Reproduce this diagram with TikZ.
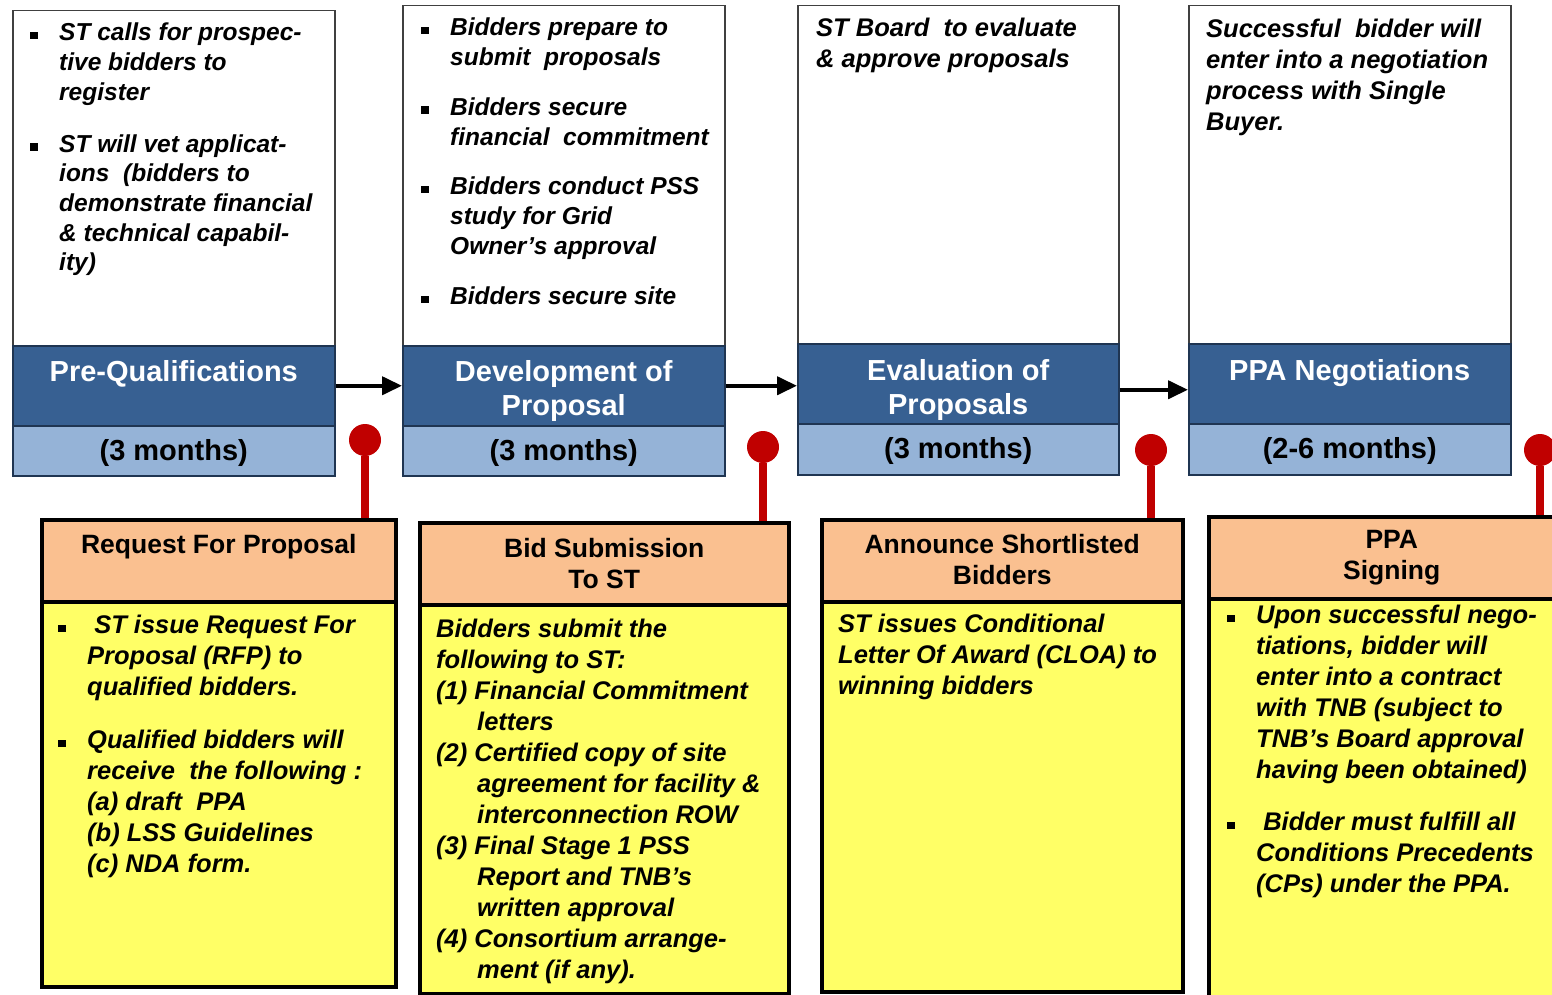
\documentclass[tikz,border=0pt]{standalone}
\usepackage{fontspec}
\setmainfont{Liberation Sans}
\usetikzlibrary{arrows.meta}

\definecolor{phaseblue}{HTML}{376092}
\definecolor{phaseedge}{HTML}{1F3552}
\definecolor{durblue}{HTML}{95B3D7}
\definecolor{headorange}{HTML}{FAC090}
\definecolor{bodyyellow}{HTML}{FFFF66}
\definecolor{pinred}{HTML}{C00000}

% square bullet in a box of the given width, and the matching hanging indent
\newcommand{\sqbul}[1]{\makebox[#1][l]{\rule[1.5pt]{7.5pt}{7.5pt}}}
\newcommand{\hang}[1]{\hspace*{#1}}

\begin{document}
\begin{tikzpicture}[x=1pt,y=-1pt,
  descbox/.style={draw=black!75, line width=1.5pt, fill=white, inner sep=0, anchor=north west},
  phasebox/.style={draw=phaseedge, line width=1.5pt, fill=phaseblue, inner sep=0, anchor=north west},
  durbox/.style={draw=phaseedge, line width=1.5pt, fill=durblue, inner sep=0, anchor=north west},
  headbox/.style={draw=black, line width=3.5pt, fill=headorange, inner sep=0, anchor=north west},
  bodybox/.style={draw=black, line width=3.5pt, fill=bodyyellow, inner sep=0, anchor=north west},
  txt/.style={inner sep=0, anchor=north west, align=left, font=\fontsize{24.5}{29.7}\selectfont\bfseries\itshape},
  bodytxt/.style={txt, font=\fontsize{25.5}{31}\selectfont\bfseries\itshape},
  phaselabel/.style={inner sep=0, anchor=north, align=center, text=white, font=\fontsize{29}{34}\selectfont\bfseries},
  durlabel/.style={inner sep=0, font=\fontsize{29}{34}\selectfont\bfseries},
  headlabel/.style={inner sep=0, anchor=north, align=center, font=\fontsize{26.5}{31.5}\selectfont\bfseries},
  flow/.style={line width=4pt, -{Triangle[length=20pt,width=18pt]}},
  pinhead/.style={circle, fill=pinred, inner sep=0, minimum size=32pt},
  pinstem/.style={draw=pinred, line width=8pt}
]
\useasboundingbox (0,0) rectangle (1552,995);
\clip (0,0) rectangle (1552,995);

% ---------- phase columns ----------
\node[descbox, minimum width=322, minimum height=335] (d1) at (12,10) {};
\node[phasebox, minimum width=322, minimum height=80] (p1) at (12,345) {};
\node[durbox, minimum width=322, minimum height=50] (m1) at (12,425) {};

\node[descbox, minimum width=322, minimum height=340] (d2) at (402,5) {};
\node[phasebox, minimum width=322, minimum height=80] (p2) at (402,345) {};
\node[durbox, minimum width=322, minimum height=50] (m2) at (402,425) {};

\node[descbox, minimum width=321, minimum height=338] (d3) at (797,5) {};
\node[phasebox, minimum width=321, minimum height=80] (p3) at (797,343) {};
\node[durbox, minimum width=321, minimum height=51] (m3) at (797,423) {};

\node[descbox, minimum width=322, minimum height=338] (d4) at (1188,5) {};
\node[phasebox, minimum width=322, minimum height=80] (p4) at (1188,343) {};
\node[durbox, minimum width=322, minimum height=51] (m4) at (1188,423) {};

\node[phaselabel] (p1t) at ([yshift=-15pt]p1.north) {Pre-Qualifications};
\node[phaselabel] (p2t) at ([yshift=-15pt]p2.north) {Development of\\Proposal};
\node[phaselabel] (p3t) at ([yshift=-16pt]p3.north) {Evaluation of\\Proposals};
\node[phaselabel] (p4t) at ([yshift=-16pt]p4.north) {PPA Negotiations};

\node[durlabel] (m1t) at ([yshift=-2pt]m1.center) {(3 months)};
\node[durlabel] (m2t) at ([yshift=-2pt]m2.center) {(3 months)};
\node[durlabel] (m3t) at ([yshift=-2pt]m3.center) {(3 months)};
\node[durlabel] (m4t) at ([yshift=-2pt]m4.center) {(2-6 months)};

% phase descriptions
\node[txt] (t1) at (30,23) {%
\sqbul{29pt}ST calls for prospec-\\
\hang{29pt}tive bidders to\\
\hang{29pt}register\\[22pt]
\sqbul{29pt}ST will vet applicat-\\
\hang{29pt}ions\ \ (bidders to\\
\hang{29pt}demonstrate financial\\
\hang{29pt}\& technical capabil-\\
\hang{29pt}ity)};

\node[txt] (t2) at (421,18) {%
\sqbul{29pt}Bidders prepare to\\
\hang{29pt}submit\ \ proposals\\[20pt]
\sqbul{29pt}Bidders secure\\
\hang{29pt}financial\ \ commitment\\[20pt]
\sqbul{29pt}Bidders conduct PSS\\
\hang{29pt}study for Grid\\
\hang{29pt}Owner’s approval\\[21pt]
\sqbul{29pt}Bidders secure site};

\node[bodytxt] (t3) at (816,18) {%
ST Board\ \ to evaluate\\
\& approve proposals};

\node[bodytxt] (t4) at (1206,19) {%
Successful\ \ bidder will\\
enter into a negotiation\\
process with Single\\
Buyer.};

% phase flow
\draw[flow] (p1.east) -- (p1.east -| p2.west);
\draw[flow] (p2.east) -- (p2.east -| p3.west);
\coordinate (a3) at ([yshift=-6pt]p3.east);
\draw[flow] (a3) -- (a3 -| p4.west);

% ---------- milestone boxes ----------
\node[bodybox, minimum width=354, minimum height=385] (b1) at (40,600) {};
\node[headbox, minimum width=354, minimum height=82] (r1) at (40,518) {};
\node[bodybox, minimum width=369, minimum height=389] (b2) at (418,603) {};
\node[headbox, minimum width=369, minimum height=82] (r2) at (418,521) {};
\node[bodybox, minimum width=361, minimum height=390] (b3) at (820,600) {};
\node[headbox, minimum width=361, minimum height=82] (r3) at (820,518) {};
\node[bodybox, minimum width=366, minimum height=420] (b4) at (1207,597) {};
\node[headbox, minimum width=366, minimum height=82] (r4) at (1207,515) {};

\node[headlabel] (h1) at ([yshift=-16pt]r1.north) {Request For Proposal};
\node[headlabel] (h2) at ([yshift=-17pt]r2.north) {Bid Submission\\To ST};
\node[headlabel] (h3) at ([yshift=-16pt]r3.north) {Announce Shortlisted\\Bidders};
\node[headlabel] (h4) at ([yshift=-15pt]r4.north) {PPA\\Signing};

\node[bodytxt] (tb1) at (58,615) {%
\sqbul{29pt}\ ST issue Request For\\
\hang{29pt}Proposal (RFP) to\\
\hang{29pt}qualified bidders.\\[22pt]
\sqbul{29pt}Qualified bidders will\\
\hang{29pt}receive\ \ the following :\\
\hang{29pt}(a) draft\ \ PPA\\
\hang{29pt}(b) LSS Guidelines\\
\hang{29pt}(c) NDA form.};

\node[bodytxt] (tb2) at (436,619) {%
Bidders submit the\\
following to ST:\\
(1) Financial Commitment\\
\hang{41pt}letters\\
(2) Certified copy of site\\
\hang{41pt}agreement for facility \&\\
\hang{41pt}interconnection ROW\\
(3) Final Stage 1 PSS\\
\hang{41pt}Report and TNB’s\\
\hang{41pt}written approval\\
(4) Consortium arrange-\\
\hang{41pt}ment (if any).};

\node[bodytxt] (tb3) at (838,614) {%
ST issues Conditional\\
Letter Of Award (CLOA) to\\
winning bidders};

\node[bodytxt] (tb4) at (1227,605) {%
\sqbul{29pt}Upon successful\ nego-\\
\hang{29pt}tiations, bidder will\\
\hang{29pt}enter into a contract\\
\hang{29pt}with TNB (subject to\\
\hang{29pt}TNB’s Board approval\\
\hang{29pt}having been obtained)\\[21pt]
\sqbul{29pt}\ Bidder must fulfill all\\
\hang{29pt}Conditions Precedents\\
\hang{29pt}(CPs) under the PPA.};

% ---------- milestone pins ----------
\node[pinhead] (k1) at (365,440) {};
\node[pinhead] (k2) at (763,447) {};
\node[pinhead] (k3) at (1151,450) {};
\node[pinhead] (k4) at (1540,450) {};
\draw[pinstem] (k1.south) -- (k1.south |- r1.north);
\draw[pinstem] (k2.south) -- (k2.south |- r2.north);
\draw[pinstem] (k3.south) -- (k3.south |- r3.north);
\draw[pinstem] (k4.south) -- (k4.south |- r4.north);
\end{tikzpicture}
\end{document}
